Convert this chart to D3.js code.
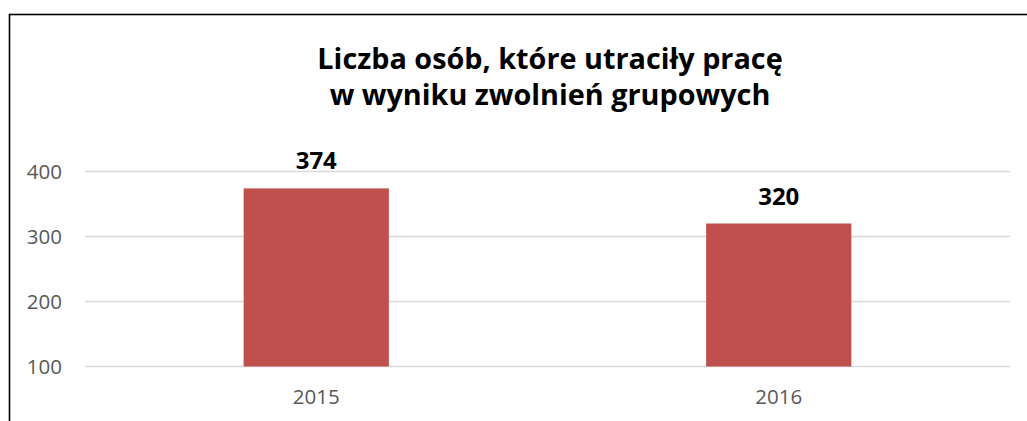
<!DOCTYPE html>
<html>
<head>
<meta charset="utf-8">
<script src="https://cdn.jsdelivr.net/npm/d3@7"></script>
<style>
  html, body { margin: 0; padding: 0; background: #fff; }
  svg { display: block; }
</style>
</head>
<body>
<svg id="chart" width="1027" height="421"></svg>
<script>
// Data: persons who lost their job in collective redundancies
const years = ["2015", "2016"];
const values = [374, 320];
const yTicks = [100, 200, 300, 400];
const titleLines = ["Liczba osób, które utraciły pracę", "w wyniku zwolnień grupowych"];

const svg = d3.select("#chart");
const W = 1027, H = 421;
const margin = { left: 85, right: 17, top: 171.5, bottom: 54.5 };

// chart area frame (runs off the right and bottom edges)
svg.append("rect")
  .attr("x", 9.5).attr("y", 14.5)
  .attr("width", W + 20).attr("height", H + 20)
  .attr("fill", "#fff")
  .attr("stroke", "#000").attr("stroke-width", 1.6);

const x = d3.scaleBand()
  .domain(years)
  .range([margin.left, W - margin.right])
  .paddingInner(0.686)
  .paddingOuter(0.343);

const y = d3.scaleLinear()
  .domain([100, 400])
  .range([H - margin.bottom, margin.top]);

// horizontal gridlines
svg.append("g")
  .selectAll("line")
  .data(yTicks)
  .join("line")
  .attr("x1", margin.left).attr("x2", W - margin.right)
  .attr("y1", d => y(d)).attr("y2", d => y(d))
  .attr("stroke", "#d9d9d9").attr("stroke-width", 1.3);

// y axis labels
const yAxis = d3.axisLeft(y).tickValues(yTicks).tickSize(0).tickPadding(23);
svg.append("g")
  .attr("transform", `translate(${margin.left},0)`)
  .call(yAxis)
  .call(g => g.select(".domain").remove())
  .call(g => g.selectAll("text")
    .attr("fill", "#595959")
    .style("font-family", "'Open Sans', sans-serif")
    .style("font-size", "20.5px"));

// x axis labels
const xAxis = d3.axisBottom(x).tickSize(0).tickPadding(23);
svg.append("g")
  .attr("transform", `translate(0,${y(100)})`)
  .call(xAxis)
  .call(g => g.select(".domain").remove())
  .call(g => g.selectAll("text")
    .attr("fill", "#595959")
    .style("font-family", "'Open Sans', sans-serif")
    .style("font-size", "20.5px"));

// bars
const data = years.map((yr, i) => ({ year: yr, value: values[i] }));
svg.append("g")
  .selectAll("rect")
  .data(data)
  .join("rect")
  .attr("x", d => x(d.year))
  .attr("width", x.bandwidth())
  .attr("y", d => y(d.value))
  .attr("height", d => y(100) - y(d.value))
  .attr("fill", "#c0504d");

// value labels
svg.append("g")
  .selectAll("text")
  .data(data)
  .join("text")
  .attr("x", d => x(d.year) + x.bandwidth() / 2)
  .attr("y", d => y(d.value) - 19)
  .attr("text-anchor", "middle")
  .attr("fill", "#000")
  .style("font-family", "'Open Sans', sans-serif")
  .style("font-weight", "700")
  .style("font-size", "24px")
  .text(d => d.value);

// title
const titleX = 550;
svg.append("text")
  .attr("x", titleX)
  .attr("y", 68.5)
  .attr("text-anchor", "middle")
  .attr("fill", "#000")
  .style("font-family", "'Open Sans', sans-serif")
  .style("font-weight", "700")
  .style("font-size", "28.8px")
  .selectAll("tspan")
  .data(titleLines)
  .join("tspan")
  .attr("x", titleX)
  .attr("dy", (d, i) => i === 0 ? 0 : 36.5)
  .text(d => d);
</script>
</body>
</html>
